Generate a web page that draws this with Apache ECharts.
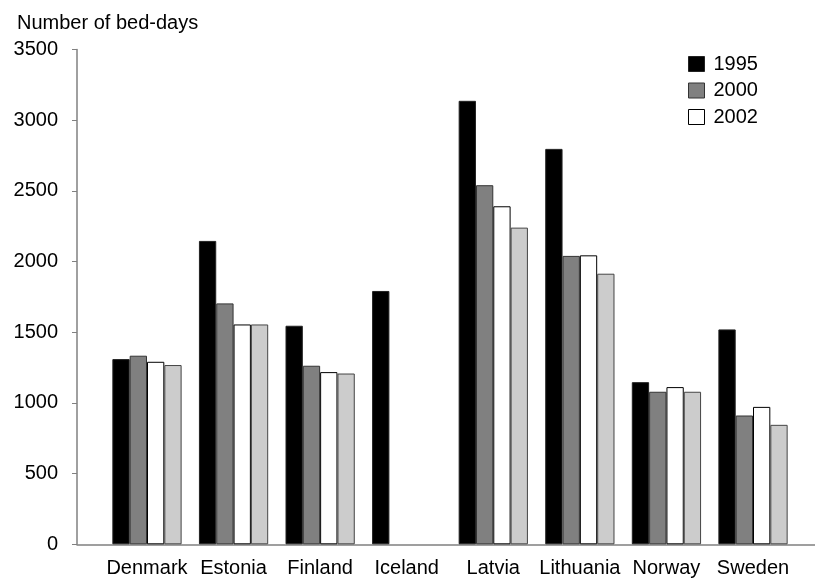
<!DOCTYPE html>
<html>
<head>
<meta charset="utf-8">
<script src="https://cdn.jsdelivr.net/npm/echarts@6/dist/echarts.min.js"></script>
<style>
html,body{margin:0;padding:0;background:#fff;}
#chart{width:815px;height:584px;}
</style>
</head>
<body>
<div id="chart"></div>
<script>
const categories = ['Denmark','Estonia','Finland','Iceland','Latvia','Lithuania','Norway','Sweden'];
const years = ['1995','2000','2002','2003'];
const values1995 = [1310, 2146, 1546, 1792, 3137, 2797, 1147, 1520];
const values2000 = [1334, 1704, 1263, null, 2540, 2040, 1079, 911];
const values2002 = [1291, 1555, 1218, null, 2391, 2044, 1112, 972];
const values2003 = [1268, 1555, 1208, null, 2240, 1914, 1079, 845];
const yTicks = {min: 0, max: 3500, interval: 500};

const FONT = 'Liberation Sans, Arial, sans-serif';
const FS = 20;
const fills = ['#000000', '#808080', '#ffffff', '#cccccc'];
const borders = ['#222222', '#333333', '#000000', '#444444'];
const seriesData = [values1995, values2000, values2002, values2003];

const chart = echarts.init(document.getElementById('chart'), null, {renderer: 'canvas'});
chart.setOption({
  animation: false,
  backgroundColor: '#ffffff',
  title: {
    text: 'Number of bed-days',
    left: 12, top: 8,
    textStyle: {fontFamily: FONT, fontSize: FS, fontWeight: 'normal', color: '#000'}
  },
  legend: {
    data: ['1995','2000','2002'],
    icon: 'rect',
    orient: 'vertical',
    left: 683, top: 49,
    itemWidth: 16, itemHeight: 15, itemGap: 6.5,
    textStyle: {fontFamily: FONT, fontSize: FS, color: '#000', lineHeight: 20, padding: [0, 0, 0, 4]},
    itemStyle: {borderWidth: 1}
  },
  grid: [
    {left: 77, right: 0, top: 49.5, bottom: 39.7},
    {left: 103.7, right: 18.7, top: 49.5, bottom: 39.7}
  ],
  xAxis: [
    {gridIndex: 0, type: 'value', min: 0, max: 1,
     axisLine: {show: true, lineStyle: {color: '#808080', width: 1.5}},
     axisTick: {show: false}, axisLabel: {show: false}, splitLine: {show: false}},
    {gridIndex: 1, type: 'category', data: categories,
     axisLine: {show: false}, axisTick: {show: false}, splitLine: {show: false},
     axisLabel: {fontFamily: FONT, fontSize: FS, color: '#000', margin: 14, interval: 0}}
  ],
  yAxis: [
    {gridIndex: 0, type: 'value', min: yTicks.min, max: yTicks.max, interval: yTicks.interval,
     axisLine: {show: true, lineStyle: {color: '#808080', width: 1.5}},
     axisTick: {show: true, length: 5, lineStyle: {color: '#808080'}},
     splitLine: {show: false},
     axisLabel: {fontFamily: FONT, fontSize: FS, color: '#000', margin: 19, formatter: v => String(v)}},
    {gridIndex: 1, type: 'value', min: yTicks.min, max: yTicks.max, interval: yTicks.interval, show: false,
     splitLine: {show: false}}
  ],
  series: years.map((y, i) => ({
    name: y,
    type: 'bar',
    xAxisIndex: 1, yAxisIndex: 1,
    data: seriesData[i],
    barGap: '0%',
    barCategoryGap: '20%',
    itemStyle: {color: fills[i], borderColor: borders[i], borderWidth: 1}
  }))
});
</script>
</body>
</html>
